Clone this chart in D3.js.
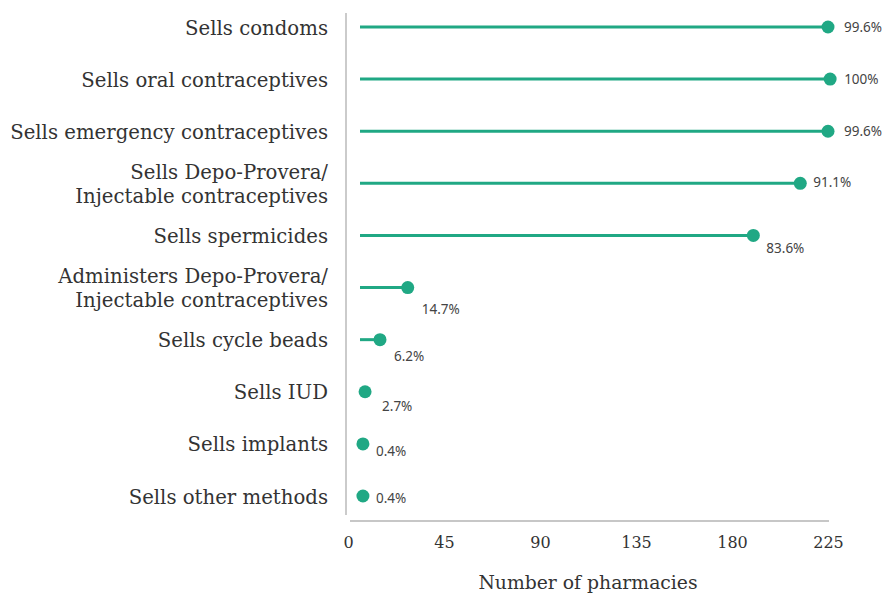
<!DOCTYPE html>
<html>
<head>
<meta charset="utf-8">
<script src="https://cdn.jsdelivr.net/npm/d3@7"></script>
<style>
  body { margin: 0; background: #fff; }
  svg { display: block; }
</style>
</head>
<body>
<svg id="chart" width="885" height="593"></svg>
<script>
// data
const methods = [
  "Sells condoms",
  "Sells oral contraceptives",
  "Sells emergency contraceptives",
  "Sells Depo-Provera/\nInjectable contraceptives",
  "Sells spermicides",
  "Administers Depo-Provera/\nInjectable contraceptives",
  "Sells cycle beads",
  "Sells IUD",
  "Sells implants",
  "Sells other methods"
];
const pharmacies = [225, 226, 225, 212, 190, 28, 15, 8, 7, 7];
const percentLabels = ["99.6%", "100%", "99.6%", "91.1%", "83.6%", "14.7%", "6.2%", "2.7%", "0.4%", "0.4%"];
const xTicks = [0, 45, 90, 135, 180, 225];

// where each percent label sits relative to its dot
const labelOffsets = [[16, 0], [14, 0], [16, 0], [13, -1], [13, 13], [14, 21], [14, 16], [17, 14], [13, 7], [13, 2]];

const green = "#20a884";
const serif = "'DejaVu Serif', serif";

const svg = d3.select("#chart");

const x = d3.scaleLinear().domain([0, 225]).range([348, 828]);
const y = d3.scalePoint().domain(methods).range([27, 496]);

// vertical axis line
svg.append("line")
  .attr("x1", 346).attr("x2", 346)
  .attr("y1", 13).attr("y2", 515)
  .attr("stroke", "#a8a8a8").attr("stroke-width", 1.2);

// x axis
const xAxis = svg.append("g")
  .attr("transform", "translate(0,521)")
  .call(d3.axisBottom(x).tickValues(xTicks).tickSize(0).tickPadding(16));
xAxis.select(".domain").attr("stroke", "#b5b5b5").attr("stroke-width", 1.5)
  .attr("d", "M" + (x(0) + 2) + ",0H" + (x(225) + 1));
xAxis.selectAll("text")
  .attr("font-family", serif).attr("font-size", 16).attr("fill", "#333");

svg.append("text")
  .attr("x", x(112.5)).attr("y", 589)
  .attr("text-anchor", "middle")
  .attr("font-family", serif).attr("font-size", 18.8).attr("fill", "#333")
  .text("Number of pharmacies");

// category labels
const cat = svg.append("g").selectAll("text")
  .data(methods)
  .join("text")
  .attr("text-anchor", "end")
  .attr("font-family", serif).attr("font-size", 19.7).attr("fill", "#333")
  .attr("y", d => y(d));
cat.each(function(d) {
  const lines = d.split("\n");
  const t = d3.select(this);
  lines.forEach((ln, i) => {
    t.append("tspan")
      .attr("x", 328)
      .attr("y", y(d) + 7.5 + (i - (lines.length - 1) / 2) * 24)
      .text(ln);
  });
});

// stems
svg.append("g").selectAll("line")
  .data(methods)
  .join("line")
  .attr("x1", x(0) + 12)
  .attr("x2", (d, i) => Math.max(x(0) + 12, x(pharmacies[i])))
  .attr("y1", d => y(d)).attr("y2", d => y(d))
  .attr("stroke", green).attr("stroke-width", 3);

// dots
svg.append("g").selectAll("circle")
  .data(methods)
  .join("circle")
  .attr("cx", (d, i) => x(pharmacies[i]))
  .attr("cy", d => y(d))
  .attr("r", 6.5)
  .attr("fill", green);

// percent labels
svg.append("g").selectAll("text")
  .data(methods)
  .join("text")
  .attr("x", (d, i) => x(pharmacies[i]) + labelOffsets[i][0])
  .attr("y", (d, i) => y(d) + labelOffsets[i][1] + 5)
  .attr("font-family", "'Noto Sans', sans-serif")
  .attr("font-size", 13.5).attr("fill", "#444")
  .text((d, i) => percentLabels[i]);
</script>
</body>
</html>
